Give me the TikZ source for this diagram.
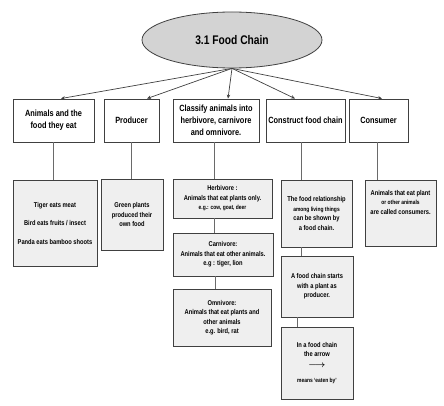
\documentclass[tikz,border=0pt]{standalone}
\usepackage{fontspec}
\setmainfont{Liberation Sans}[FakeStretch=0.82]
\usetikzlibrary{arrows.meta,shapes.geometric}

\definecolor{boxline}{HTML}{404040}
\definecolor{linegray}{HTML}{6A6A6A}
\definecolor{boxfill}{HTML}{EFEFEF}
\definecolor{titlefill}{HTML}{D3D3D3}

\newcommand{\smalltxt}{\fontsize{6}{8}\selectfont}

\tikzset{
  titlenode/.style={ellipse, draw=boxline, fill=titlefill, line width=0.8pt,
    minimum width=180pt, minimum height=56pt, font=\fontsize{12.5}{14}\selectfont\bfseries},
  topbox/.style={draw=boxline, fill=white, line width=0.9pt, align=center,
    inner sep=1pt, font=\fontsize{9}{12}\selectfont\bfseries},
  subbox/.style={draw=boxline, fill=boxfill, line width=0.9pt, align=center,
    inner sep=1pt, font=\fontsize{7}{9.5}\selectfont\bfseries},
  link/.style={draw=linegray, line width=0.8pt},
  branch/.style={draw=boxline, line width=0.7pt, -{Stealth[length=4pt,width=3.5pt]}},
}

\begin{document}
\begin{tikzpicture}[x=1pt,y=-1pt]
  \useasboundingbox (0,0) rectangle (444,406);

  % title
  \node[titlenode] (food) at (232,40) {3.1 Food Chain};

  % first row
  \node[topbox, minimum width=81pt, minimum height=43pt] (animals) at (53.5,120.5) {Animals and the\\food they eat};
  \node[topbox, minimum width=55pt, minimum height=43pt] (producer) at (131.5,120.5) {Producer};
  \node[topbox, minimum width=86pt, minimum height=43pt] (classify) at (216,120.5) {Classify animals into\\herbivore, carnivore\\and omnivore.};
  \node[topbox, minimum width=79pt, minimum height=43pt] (construct) at (305.5,120.5) {Construct food chain};
  \node[topbox, minimum width=59pt, minimum height=43pt] (consumer) at (378.5,120.5) {Consumer};

  \draw[branch] (food.south) -- ([xshift=7.5pt]animals.north);
  \draw[branch] (food.south) -- ([xshift=15.5pt]producer.north);
  \draw[branch] (food.south) -- ([xshift=12pt]classify.north);
  \draw[branch] (food.south) -- ([xshift=-10.5pt]construct.north);
  \draw[branch] (food.south) -- ([xshift=3.5pt]consumer.north);

  % second row
  \node[subbox, minimum width=84pt, minimum height=86pt] (eatbox) at (55,223)
    {Tiger eats meat\\[9pt]Bird eats fruits / insect\\[9pt]Panda eats bamboo shoots};
  \node[subbox, minimum width=62pt, minimum height=71pt] (greenbox) at (132,214.5)
    {Green plants\\produced their\\own food};

  \node[subbox, minimum width=99pt, minimum height=39pt] (herbbox) at (222.5,198.5)
    {Herbivore :\\Animals that eat plants only.\\{\smalltxt e.g.: cow, goat, deer}};
  \node[subbox, minimum width=100pt, minimum height=43pt] (carnbox) at (223,254.5)
    {Carnivore:\\Animals that eat other animals.\\e.g : tiger, lion};
  \node[subbox, minimum width=98pt, minimum height=57pt] (omnibox) at (222,317.5)
    {Omnivore:\\Animals that eat plants and\\other animals\\e.g. bird, rat};

  \node[subbox, minimum width=71pt, minimum height=67pt] (relbox) at (316.5,213.5)
    {The food relationship\\{\smalltxt among living things}\\can be shown by\\a food chain.};
  \node[subbox, minimum width=72pt, minimum height=61pt] (startbox) at (317,286.5)
    {A food chain starts\\with a plant  as\\producer.};
  \node[subbox, minimum width=72pt, minimum height=72pt] (arrowbox) at (317,363)
    {In a food chain\\the arrow\\[1pt]{\fontsize{9}{9}\selectfont\boldmath$\longrightarrow$}\\[6pt]{\smalltxt means `eaten by'}};

  \node[subbox, minimum width=71pt, minimum height=66pt] (consbox) at (400.5,213)
    {Animals that eat plant\\{\smalltxt or other animals}\\are called consumers.\\[12pt]};

  % vertical links
  \draw[link] (animals.south) -- (animals.south |- eatbox.north);
  \draw[link] (producer.south) -- (producer.south |- greenbox.north);
  \draw[link] ([xshift=-1.5pt]classify.south) -- ([xshift=-1.5pt]classify.south |- herbbox.north);
  \draw[link] ([xshift=-8pt]herbbox.south) -- ([xshift=-8pt]herbbox.south |- carnbox.north);
  \draw[link] ([xshift=-8pt]carnbox.south) -- ([xshift=-8pt]carnbox.south |- omnibox.north);
  \draw[link] ([xshift=-4.5pt]construct.south) -- ([xshift=-4.5pt]construct.south |- relbox.north);
  \draw[link] ([xshift=-15.5pt]relbox.south) -- ([xshift=-15.5pt]relbox.south |- startbox.north);
  \draw[link] ([xshift=-20pt]startbox.south) -- ([xshift=-20pt]startbox.south |- arrowbox.north);
  \draw[link] ([xshift=-1.5pt]consumer.south) -- ([xshift=-1.5pt]consumer.south |- consbox.north);
\end{tikzpicture}
\end{document}
